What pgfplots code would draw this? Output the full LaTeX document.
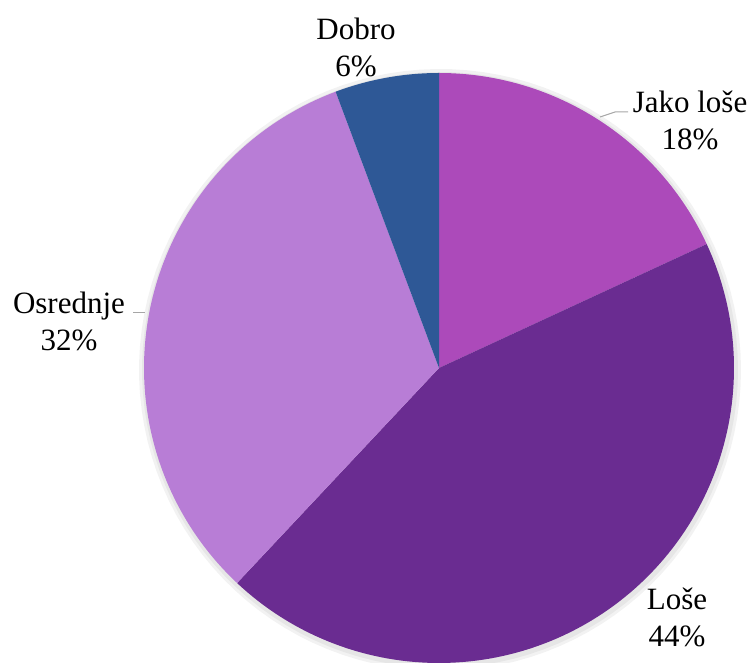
\documentclass[border=0pt]{standalone}
\usepackage{pgfplots}
\pgfplotsset{compat=1.18}
\usepackage{fontspec}
\setmainfont{Liberation Serif}
\definecolor{cJako}{HTML}{AC4ABA}
\definecolor{cLose}{HTML}{6A2C91}
\definecolor{cOsr}{HTML}{B87DD6}
\definecolor{cDob}{HTML}{2E5896}
\definecolor{leader}{HTML}{A6A6A6}
% shares in percent: Jako lose 18.1, Lose 43.9, Osrednje 32.3, Dobro 5.7
\begin{document}
\begin{tikzpicture}
\useasboundingbox (0,0) rectangle (753pt,663pt);
\begin{axis}[
  scale only axis, width=753pt, height=663pt,
  xmin=0, xmax=753, ymin=0, ymax=663,
  hide axis, clip=false,
  samples=120,
]
% soft shadow
\addplot[fill=black, fill opacity=0.05, draw=none, domain=0:360] ({440+301*cos(x)},{293+301*sin(x)});
\addplot[fill=black, fill opacity=0.05, draw=none, domain=0:360] ({440+298*cos(x)},{293+298*sin(x)});
% Jako lose 18.1%: 90 -> 90-3.6*18.1
\addplot[fill=cJako, draw=none, domain={90-3.6*18.1}:{90}]
  ({439+295*cos(x)},{295+295*sin(x)}) -- (axis cs:439,295) -- cycle;
% Lose 43.9%
\addplot[fill=cLose, draw=none, domain={90-3.6*(18.1+43.9)}:{90-3.6*18.1}]
  ({439+295*cos(x)},{295+295*sin(x)}) -- (axis cs:439,295) -- cycle;
% Osrednje 32.3%
\addplot[fill=cOsr, draw=none, domain={90-3.6*(18.1+43.9+32.3)}:{90-3.6*(18.1+43.9)}]
  ({439+295*cos(x)},{295+295*sin(x)}) -- (axis cs:439,295) -- cycle;
% Dobro 5.7%
\addplot[fill=cDob, draw=none, domain={90-3.6*(18.1+43.9+32.3+5.7)}:{90-3.6*(18.1+43.9+32.3)}]
  ({439+295*cos(x)},{295+295*sin(x)}) -- (axis cs:439,295) -- cycle;
% leader lines
\addplot[leader, line width=1pt, no marks] coordinates {(600,546) (615,551) (628,551)};
\addplot[leader, line width=1pt, no marks] coordinates {(133,350) (145,350)};
% labels
\node[align=center, font=\fontsize{31}{37}\selectfont] at (axis cs:690,543) {Jako loše\\18\%};
\node[align=center, font=\fontsize{31}{37}\selectfont] at (axis cs:677,46) {Loše\\44\%};
\node[align=center, font=\fontsize{31}{37}\selectfont] at (axis cs:69,342) {Osrednje\\32\%};
\node[align=center, font=\fontsize{31}{37}\selectfont] at (axis cs:356,616) {Dobro\\6\%};
\end{axis}
\end{tikzpicture}
\end{document}
